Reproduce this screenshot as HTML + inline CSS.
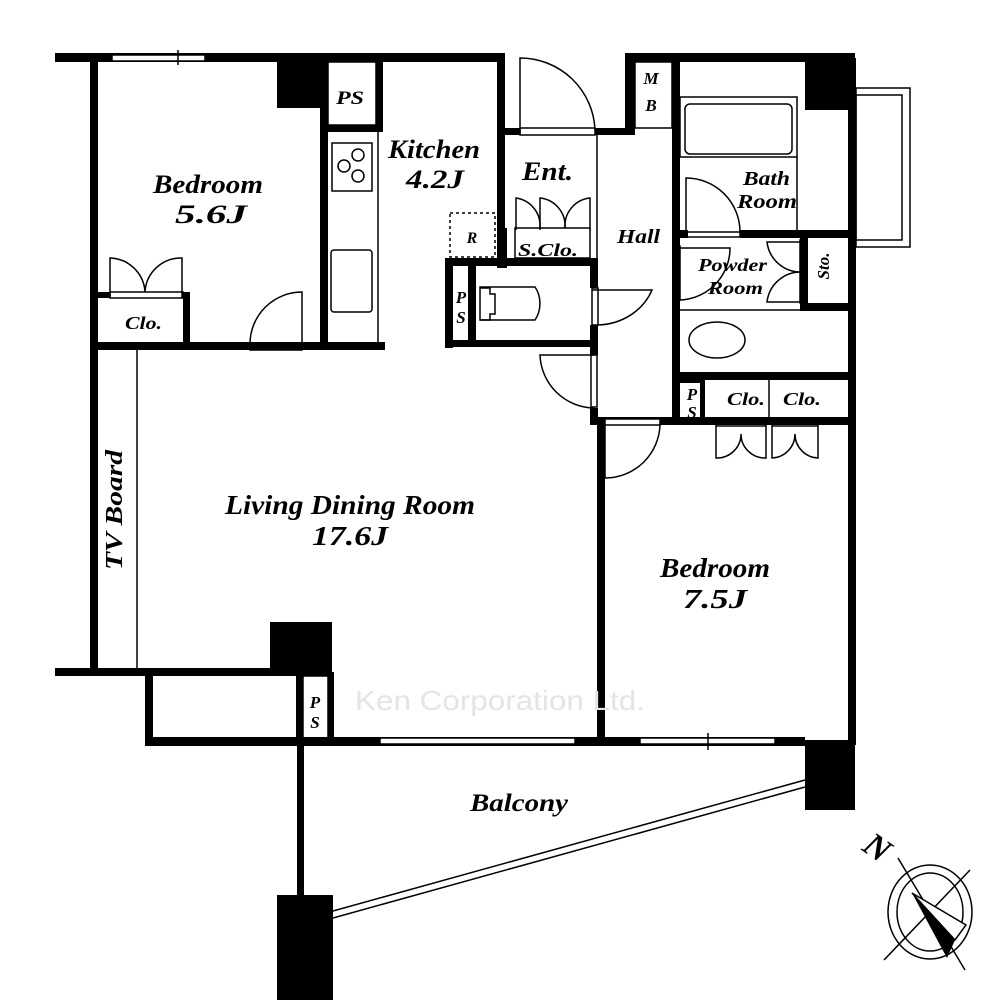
<!DOCTYPE html>
<html><head><meta charset="utf-8"><style>
html,body{margin:0;padding:0;background:#fff}
svg{display:block}
text{font-family:"Liberation Serif",serif;font-style:italic;font-weight:bold;fill:#000}
</style></head><body>
<svg width="1000" height="1000" viewBox="0 0 1000 1000" xmlns="http://www.w3.org/2000/svg">
<g fill="#000">
<rect x="55" y="53" width="450" height="9"/>
<rect x="625" y="53" width="230" height="9"/>
<rect x="90" y="55" width="8" height="620"/>
<rect x="277" y="58" width="46" height="50"/>
<rect x="376" y="58" width="7" height="72"/>
<rect x="320" y="125" width="63" height="7"/>
<rect x="320" y="58" width="8" height="292"/>
<rect x="497" y="58" width="8" height="210"/>
<rect x="95" y="342" width="290" height="8"/>
<rect x="95" y="292" width="15" height="6"/>
<rect x="183" y="292" width="7" height="55"/>
<rect x="55" y="668" width="220" height="8"/>
<rect x="270" y="622" width="62" height="54"/>
<rect x="145" y="672" width="8" height="73"/>
<rect x="296" y="672" width="7" height="73"/>
<rect x="328" y="672" width="6" height="70"/>
<rect x="145" y="737" width="660" height="9"/>
<rect x="297" y="745" width="7" height="150"/>
<rect x="277" y="895" width="56" height="105"/>
<rect x="805" y="740" width="50" height="70"/>
<rect x="848" y="58" width="8" height="687"/>
<rect x="805" y="58" width="50" height="52"/>
<rect x="500" y="128" width="20" height="7"/>
<rect x="595" y="128" width="40" height="7"/>
<rect x="625" y="58" width="10" height="77"/>
<rect x="672" y="58" width="8" height="362"/>
<rect x="500" y="228" width="7" height="40"/>
<rect x="445" y="258" width="152" height="8"/>
<rect x="445" y="258" width="8" height="90"/>
<rect x="468" y="262" width="8" height="85"/>
<rect x="445" y="340" width="152" height="7"/>
<rect x="590" y="258" width="8" height="30"/>
<rect x="590" y="325" width="8" height="30"/>
<rect x="590" y="408" width="8" height="17"/>
<rect x="740" y="230" width="115" height="8"/>
<rect x="680" y="230" width="8" height="8"/>
<rect x="800" y="236" width="8" height="74"/>
<rect x="800" y="303" width="55" height="8"/>
<rect x="680" y="372" width="175" height="8"/>
<rect x="680" y="375" width="25" height="8"/>
<rect x="700" y="375" width="5" height="45"/>
<rect x="597" y="417" width="258" height="8"/>
<rect x="597" y="420" width="8" height="325"/>
</g>
<g fill="none" stroke="#000" stroke-width="1.5">
<rect x="112" y="55" width="93" height="6" fill="#fff"/>
<line x1="178" y1="50" x2="178" y2="65"/>
<rect x="380" y="738" width="195" height="6" fill="#fff"/>
<rect x="640" y="738" width="135" height="6" fill="#fff"/>
<line x1="708" y1="733" x2="708" y2="750"/>
<rect x="328" y="62" width="48" height="63"/>
<line x1="378" y1="130" x2="378" y2="345"/>
<rect x="332" y="143" width="40" height="48"/>
<circle cx="358" cy="155" r="6"/><circle cx="358" cy="176" r="6"/><circle cx="344" cy="166" r="6"/>
<rect x="331" y="250" width="41" height="62" rx="3"/>
<rect x="450" y="213" width="45" height="44" stroke-dasharray="3,3"/>
<path d="M110 298 V258 A36 36 0 0 1 145 292"/>
<path d="M182 298 V258 A36 36 0 0 0 145 292"/>
<rect x="110" y="292" width="73" height="6"/>
<path d="M302 344 V292 A52 52 0 0 0 250 344"/>
<rect x="250" y="343" width="52" height="7"/>
<line x1="137" y1="350" x2="137" y2="672"/>
<rect x="303" y="676" width="25" height="63"/>
<line x1="333" y1="911" x2="805" y2="780"/>
<line x1="333" y1="918" x2="805" y2="787"/>
<rect x="856" y="88" width="54" height="159"/>
<rect x="856" y="95" width="46" height="145"/>
<path d="M520 135 V58 A75 75 0 0 1 595 130"/>
<rect x="520" y="128" width="75" height="7"/>
<rect x="626" y="66" width="6" height="58"/>
<rect x="635" y="62" width="37" height="66"/>
<line x1="597" y1="135" x2="597" y2="260"/>
<rect x="515" y="228" width="75" height="30"/>
<path d="M516 230 V198 A28 28 0 0 1 540 228"/>
<path d="M540 230 V198 A28 28 0 0 1 565 228"/>
<path d="M590 230 V198 A28 28 0 0 0 565 228"/>
<path d="M480 287 H535 A18 24 0 0 1 535 320 H480 Z"/>
<path d="M480 288 h10 v6 h5 v20 h-5 v6 h-10"/>
<path d="M592 290 H652 A60 55 0 0 1 598 325"/>
<rect x="592" y="288" width="6" height="37"/>
<path d="M594 355 H540 A55 55 0 0 0 594 408"/>
<rect x="591" y="355" width="6" height="52"/>
<rect x="680" y="97" width="117" height="60"/>
<rect x="685" y="104" width="107" height="50" rx="5"/>
<line x1="797" y1="157" x2="797" y2="232"/>
<path d="M686 232 V178 A54 54 0 0 1 740 232"/>
<rect x="686" y="232" width="54" height="5"/>
<path d="M676 248 V300 A52 52 0 0 0 730 248 Z"/>
<rect x="673" y="246" width="7" height="54"/>
<path d="M800 242 H767 A34 34 0 0 0 800 272"/>
<path d="M800 302 H767 A34 34 0 0 1 800 272"/>
<rect x="800" y="240" width="6" height="63"/>
<line x1="680" y1="310" x2="800" y2="310"/>
<ellipse cx="717" cy="340" rx="28" ry="18"/>
<line x1="769" y1="380" x2="769" y2="420"/>
<rect x="716" y="420" width="50" height="6"/>
<rect x="772" y="420" width="46" height="6"/>
<path d="M716 426 V458 A24 24 0 0 0 741 434 M766 426 V458 A24 24 0 0 1 741 434"/>
<path d="M772 426 V458 A24 24 0 0 0 795 434 M818 426 V458 A24 24 0 0 1 795 434"/>
<path d="M605 425 V478 A55 55 0 0 0 660 425"/>
<rect x="605" y="419" width="55" height="6" fill="#fff"/>
<ellipse cx="930" cy="912" rx="42" ry="47"/>
<ellipse cx="930" cy="912" rx="33" ry="39"/>
<line x1="898" y1="858" x2="965" y2="970"/>
<line x1="970" y1="870" x2="884" y2="960"/>
</g>
<polygon points="912,893 947,958 955,940" fill="#000"/>
<polygon points="912,893 955,940 966,925" fill="#fff" stroke="#000" stroke-width="1.5"/>
<text x="865" y="854" font-size="34" transform="rotate(35 870 845)">N</text>
<text x="153" y="193" font-size="26" textLength="110" lengthAdjust="spacingAndGlyphs">Bedroom</text>
<text x="175" y="223" font-size="26" textLength="72" lengthAdjust="spacingAndGlyphs">5.6J</text>
<text x="388" y="158" font-size="26" textLength="92" lengthAdjust="spacingAndGlyphs">Kitchen</text>
<text x="406" y="188" font-size="26" textLength="58" lengthAdjust="spacingAndGlyphs">4.2J</text>
<text x="336" y="104" font-size="19" textLength="28" lengthAdjust="spacingAndGlyphs">PS</text>
<text x="472" y="243" font-size="16" text-anchor="middle">R</text>
<text x="125" y="329" font-size="18" textLength="37" lengthAdjust="spacingAndGlyphs">Clo.</text>
<text x="522" y="180" font-size="26" textLength="51" lengthAdjust="spacingAndGlyphs">Ent.</text>
<text x="518" y="256" font-size="18" textLength="60" lengthAdjust="spacingAndGlyphs">S.Clo.</text>
<text x="617" y="243" font-size="20" textLength="43" lengthAdjust="spacingAndGlyphs">Hall</text>
<text x="651" y="84" font-size="17" text-anchor="middle">M</text>
<text x="651" y="111" font-size="17" text-anchor="middle">B</text>
<text x="743" y="185" font-size="20" textLength="47" lengthAdjust="spacingAndGlyphs">Bath</text>
<text x="737" y="208" font-size="20" textLength="60" lengthAdjust="spacingAndGlyphs">Room</text>
<text x="698" y="271" font-size="18" textLength="69" lengthAdjust="spacingAndGlyphs">Powder</text>
<text x="708" y="294" font-size="18" textLength="55" lengthAdjust="spacingAndGlyphs">Room</text>
<text x="835" y="272" font-size="17" text-anchor="middle" transform="rotate(-90 829 272)">Sto.</text>
<text x="461" y="303" font-size="17" text-anchor="middle">P</text>
<text x="461" y="323" font-size="17" text-anchor="middle">S</text>
<text x="692" y="400" font-size="17" text-anchor="middle">P</text>
<text x="692" y="418" font-size="17" text-anchor="middle">S</text>
<text x="727" y="405" font-size="18" textLength="38" lengthAdjust="spacingAndGlyphs">Clo.</text>
<text x="783" y="405" font-size="18" textLength="38" lengthAdjust="spacingAndGlyphs">Clo.</text>
<text x="62" y="510" font-size="24" textLength="120" lengthAdjust="spacingAndGlyphs" transform="rotate(-90 122 510)">TV Board</text>
<text x="225" y="514" font-size="27" textLength="250" lengthAdjust="spacingAndGlyphs">Living Dining Room</text>
<text x="312" y="545" font-size="27" textLength="76" lengthAdjust="spacingAndGlyphs">17.6J</text>
<text x="660" y="577" font-size="27" textLength="110" lengthAdjust="spacingAndGlyphs">Bedroom</text>
<text x="683" y="608" font-size="27" textLength="64" lengthAdjust="spacingAndGlyphs">7.5J</text>
<text x="315" y="708" font-size="17" text-anchor="middle">P</text>
<text x="315" y="728" font-size="17" text-anchor="middle">S</text>
<text x="470" y="811" font-size="25" textLength="98" lengthAdjust="spacingAndGlyphs">Balcony</text>
<text x="355" y="710" font-size="28" textLength="290" lengthAdjust="spacingAndGlyphs" style="font-family:'Liberation Sans',sans-serif;font-style:normal;font-weight:normal;fill:#e4e4e4">Ken Corporation Ltd.</text>
</svg>
</body></html>
